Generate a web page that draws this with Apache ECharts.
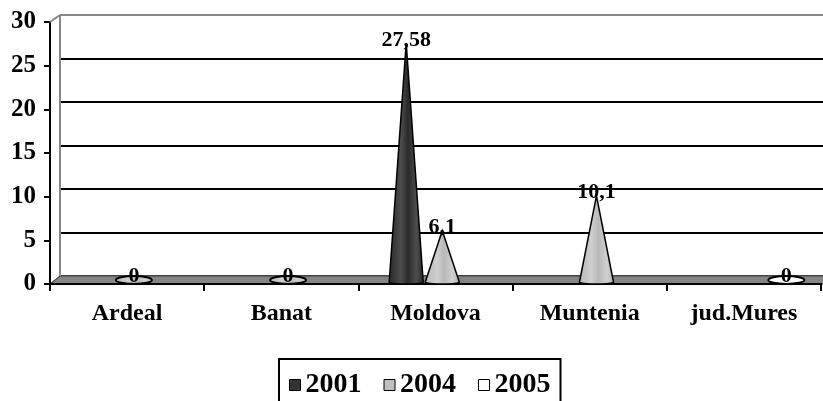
<!DOCTYPE html>
<html>
<head>
<meta charset="utf-8">
<script src="https://cdn.jsdelivr.net/npm/echarts@6/dist/echarts.min.js"></script>
<style>html,body{margin:0;padding:0;background:#fff;}#c{width:823px;height:401px;}</style>
</head>
<body>
<div id="c"></div>
<script>
const categories = ['Ardeal', 'Banat', 'Moldova', 'Muntenia', 'jud.Mures'];
const seriesNames = ['2001', '2004', '2005'];
const s2001 = [null, null, 27.58, null, null];
const s2004 = [0, 0, 6.1, 10.1, null];
const s2005 = [null, null, null, null, 0];
const yTicks = [0, 5, 10, 15, 20, 25, 30];

const FONT = '"Liberation Serif", "Times New Roman", serif';
const chart = echarts.init(document.getElementById('c'));

function coneRenderer(offsetFrac, halfW, fill) {
  return function (params, api) {
    const v = api.value(1);
    if (v === null || v === undefined || isNaN(v)) return;
    const band = api.size([1, 0])[0];
    const base = api.coord([api.value(0), 0]);
    const tip = api.coord([api.value(0), v]);
    const x = base[0] + offsetFrac * band;
    const yb = base[1] - 1;
    const children = [];
    const labelText = String(v).replace('.', ',');
    let labelY;
    if (v === 0) {
      children.push({type: 'ellipse', shape: {cx: x, cy: yb - 3, rx: halfW + 1, ry: 4},
        style: {fill: fill, stroke: '#000', lineWidth: 2}});
      labelY = yb - 7;
    } else {
      const ty = tip[1];
      children.push({type: 'ellipse', shape: {cx: x, cy: yb - 1, rx: halfW, ry: 2},
        style: {fill: fill, stroke: '#000', lineWidth: 1.5}});
      children.push({type: 'polygon', shape: {points: [[x - halfW, yb - 1], [x, ty], [x + halfW, yb - 1]]},
        style: {fill: fill, stroke: null}});
      children.push({type: 'polyline', shape: {points: [[x - halfW, yb - 1], [x, ty], [x + halfW, yb - 1]]},
        style: {fill: null, stroke: '#000', lineWidth: 1.5}});
      labelY = ty - 3;
    }
    children.push({type: 'text', style: {text: labelText, x: x, y: labelY, align: 'center', verticalAlign: 'middle',
      font: 'bold 22px ' + FONT, fill: '#000'}});
    return {type: 'group', children: children};
  };
}

function grad(c1, c2) {
  return {type: 'linear', x: 0, y: 0, x2: 1, y2: 0,
    colorStops: [{offset: 0, color: c1}, {offset: 0.35, color: c2}, {offset: 0.55, color: c1}, {offset: 0.8, color: c2}, {offset: 1, color: c1}]};
}

const toData = arr => arr.map((v, i) => [i, v === null ? '-' : v]);

const option = {
  animation: false,
  backgroundColor: '#fff',
  grid: [
    {left: 50, right: 2, top: 22, bottom: 117, containLabel: false},
    {left: 60, right: 0, top: 15, bottom: 125, containLabel: false}
  ],
  xAxis: [
    {type: 'category', gridIndex: 0, data: categories, boundaryGap: true,
      axisLine: {show: true, lineStyle: {color: '#000', width: 2}},
      axisTick: {show: true, length: 7, lineStyle: {color: '#000', width: 2}},
      axisLabel: {margin: 18, fontFamily: FONT, fontWeight: 'bold', fontSize: 24, color: '#000'},
      z: 5},
    {type: 'category', gridIndex: 1, data: categories, show: false}
  ],
  yAxis: [
    {type: 'value', gridIndex: 0, min: 0, max: 30, interval: 5,
      axisLine: {show: true, lineStyle: {color: '#000', width: 2}},
      axisTick: {show: true, length: 6, lineStyle: {color: '#000', width: 2}},
      axisLabel: {margin: 14, fontFamily: FONT, fontWeight: 'bold', fontSize: 25, color: '#000'},
      splitLine: {show: false}},
    {type: 'value', gridIndex: 1, min: 0, max: 30, interval: 5,
      axisLine: {show: false}, axisTick: {show: false}, axisLabel: {show: false},
      splitLine: {show: true, lineStyle: {color: ['#444', '#000', '#000', '#000', '#000', '#000', '#888'], width: 2}}}
  ],
  legend: {
    data: seriesNames, left: 279, top: 359, orient: 'horizontal',
    icon: 'rect', itemWidth: 11, itemHeight: 11, itemGap: 22,
    padding: [12, 10, 40, 10], borderColor: '#000', borderWidth: 2,
    itemStyle: {borderColor: '#000', borderWidth: 1},
    textStyle: {fontFamily: FONT, fontWeight: 'bold', fontSize: 28, color: '#000'}
  },
  series: [
    {name: '2001', type: 'custom', xAxisIndex: 0, yAxisIndex: 0, data: toData(s2001), z: 10, clip: false,
      itemStyle: {color: '#333333', borderColor: '#000', borderWidth: 1},
      renderItem: coneRenderer(-0.19, 17, grad('#2a2a2a', '#4d4d4d'))},
    {name: '2004', type: 'custom', xAxisIndex: 0, yAxisIndex: 0, data: toData(s2004), z: 10, clip: false,
      itemStyle: {color: '#c0c0c0', borderColor: '#000', borderWidth: 1},
      renderItem: coneRenderer(0.044, 17, grad('#b8b8b8', '#cfcfcf'))},
    {name: '2005', type: 'custom', xAxisIndex: 0, yAxisIndex: 0, data: toData(s2005), z: 10, clip: false,
      itemStyle: {color: '#ffffff', borderColor: '#000', borderWidth: 1},
      renderItem: coneRenderer(0.275, 17, '#ffffff')}
  ]
};
chart.setOption(option);

// 3D frame decoration derived from the axes
const yF0 = chart.convertToPixel({yAxisIndex: 0}, 0);
const yF30 = chart.convertToPixel({yAxisIndex: 0}, 30);
const yB0 = chart.convertToPixel({yAxisIndex: 1}, 0);
const yB30 = chart.convertToPixel({yAxisIndex: 1}, 30);
const xF = option.grid[0].left, xB = option.grid[1].left, W = 823;
chart.setOption({
  graphic: [
    {type: 'polygon', z: 1, silent: true,
      shape: {points: [[xF, yF0], [xB, yB0], [W + 10, yB0], [W + 10, yF0]]},
      style: {fill: '#858585', stroke: '#444', lineWidth: 1}},
    {type: 'line', z: 1, silent: true, shape: {x1: xF, y1: yF30, x2: xB, y2: yB30},
      style: {stroke: '#888', lineWidth: 2}},
    {type: 'line', z: 1, silent: true, shape: {x1: xB, y1: yB30, x2: xB, y2: yB0},
      style: {stroke: '#888', lineWidth: 2}},
    {type: 'line', z: 1, silent: true, shape: {x1: xF, y1: yF0, x2: xB, y2: yB0},
      style: {stroke: '#444', lineWidth: 1}}
  ]
});
</script>
</body>
</html>
